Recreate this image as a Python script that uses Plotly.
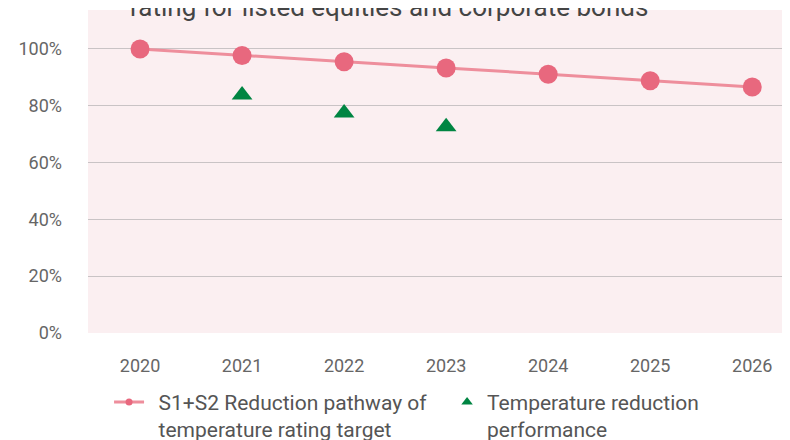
import plotly.graph_objects as go

years = ["2020", "2021", "2022", "2023", "2024", "2025", "2026"]
pathway = [100, 97.7, 95.5, 93.3, 91.1, 88.8, 86.6]
perf_years = ["2021", "2022", "2023"]
performance = [83.8, 77.4, 72.6]
y_ticks = [0, 20, 40, 60, 80, 100]
y_labels = ["0%", "20%", "40%", "60%", "80%", "100%"]
PAD = "\u00a0\u2009"
name_path = PAD + "S1+S2 Reduction pathway of<br>" + PAD + "temperature rating target"
name_perf = "Temperature reduction<br>performance"
title_text = "rating for listed equities and corporate bonds"

FONT = "Roboto, sans-serif"
PINK_LINE = "#EE8E9C"
PINK_DOT = "#E8687E"
GREEN = "#008542"

fig = go.Figure()
fig.add_trace(go.Scatter(
    x=years, y=pathway, mode="lines+markers", showlegend=False,
    line=dict(color=PINK_LINE, width=3),
    marker=dict(color=PINK_DOT, size=19),
))
fig.add_trace(go.Scatter(
    x=perf_years, y=performance, mode="markers", showlegend=False,
    marker=dict(color=GREEN, size=18, symbol="triangle-up"),
))
# legend entries (smaller symbols as in the reference legend)
fig.add_trace(go.Scatter(
    x=[None], y=[None], mode="lines+markers", name=name_path,
    line=dict(color=PINK_LINE, width=3),
    marker=dict(color=PINK_DOT, size=7),
))
fig.add_trace(go.Scatter(
    x=[None], y=[None], mode="markers", name=name_perf,
    marker=dict(color=GREEN, size=10, symbol="triangle-up"),
))
fig.update_layout(
    width=790, height=440,
    margin=dict(l=80, r=8, t=2, b=115, autoexpand=False),
    paper_bgcolor="white", plot_bgcolor="#FBEFF1",
    font=dict(family=FONT, color="#666666", size=18),
    showlegend=True,
    legend=dict(orientation="h", x=0.03, xanchor="left", y=-0.151, yanchor="top",
                valign="top",
                font=dict(size=21, color="#555555"), entrywidth=293,
                itemwidth=30, tracegroupgap=0, bgcolor="rgba(0,0,0,0)"),
    annotations=[dict(text=title_text,
                      xref="paper", yref="paper", x=0.429, xanchor="center",
                      y=1.0, yanchor="bottom", yshift=-14, showarrow=False,
                      font=dict(size=26, color="#444444", family=FONT))],
)
fig.update_xaxes(type="category", range=[-0.51, 6.37], showgrid=False,
                 showline=False, zeroline=False, ticks="", ticklabelstandoff=20,
                 tickfont=dict(size=18, color="#666666"))
fig.update_yaxes(range=[0, 113.7], tickvals=y_ticks, ticktext=y_labels,
                 showgrid=True, gridcolor="#C9C3C5", gridwidth=1, zeroline=False,
                 showline=False, ticks="", ticklabelstandoff=25,
                 tickfont=dict(size=18, color="#666666"))
fig.write_html("out.html")
